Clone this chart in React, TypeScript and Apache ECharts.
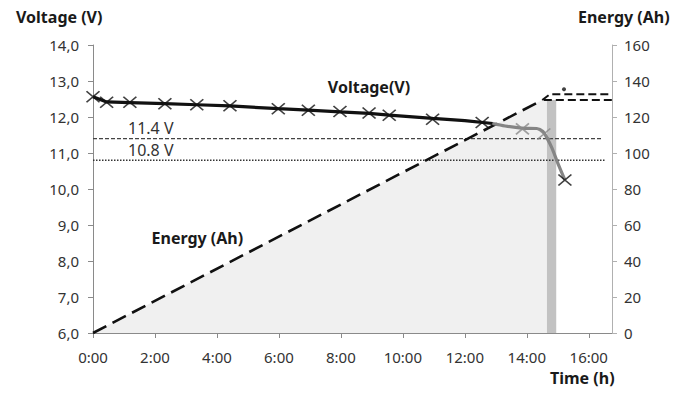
import React, { useEffect, useRef } from "react";
import * as echarts from "echarts";

// ---- data ----
const sampleHours = [0, 0.44, 1.19, 2.32, 3.35, 4.42, 5.98, 6.95, 7.97, 8.91, 9.56, 10.96, 12.56, 13.86, 14.55, 15.23];
const sampleVolts = [12.56, 12.41, 12.41, 12.37, 12.34, 12.31, 12.23, 12.19, 12.15, 12.11, 12.05, 11.94, 11.85, 11.67, 11.53, 10.25];
const sampleGray = [false, false, false, false, false, false, false, false, false, false, false, false, false, true, true, false];

const curveBlackHours = [0, 0.44, 1.19, 2.32, 3.35, 4.42, 5.98, 6.95, 7.97, 8.91, 9.56, 10.96, 12.0, 12.9];
const curveBlackVolts = [12.56, 12.42, 12.4, 12.37, 12.34, 12.31, 12.23, 12.19, 12.14, 12.1, 12.05, 11.96, 11.9, 11.82];
const curveGrayHours = [12.9, 13.3, 13.84, 14.32, 14.52, 14.65, 14.81, 15.0, 15.23];
const curveGrayVolts = [11.82, 11.75, 11.69, 11.68, 11.6, 11.42, 11.14, 10.72, 10.25];

const energyHours = [0, 14.5];
const energyAh = [0, 129.4];
const upperPlateauHours = [14.5, 14.74, 16.75];
const upperPlateauAh = [129.4, 132.6, 132.6];
const lowerPlateauHours = [14.55, 16.75];
const lowerPlateauAh = [129.4, 129.4];
const energyDot = [15.2, 135.4];

const fillHours = [0, 14.5, 14.65];
const fillAh = [0, 129.4, 129.4];
const barHours = [14.65, 14.95];
const barAh = [129.4, 129.4];

const ref114 = { volts: 11.4, from: 0, to: 16.45, label: "11.4 V", labelAt: [1.13, 11.69] };
const ref108 = { volts: 10.8, from: 0, to: 16.55, label: "10.8 V", labelAt: [1.13, 11.08] };

const voltageLabel = { text: "Voltage(V)", at: [7.58, 12.83] };
const energyLabel = { text: "Energy (Ah)", at: [1.89, 8.64] };

const xTickStep = 2;
const xMax = 16.75;
const leftMin = 6, leftMax = 14, leftStep = 1;
const rightMin = 0, rightMax = 160, rightStep = 20;

const zip = (a: number[], b: number[]) => a.map((v, i) => [v, b[i]]);

const FONT = "Noto Sans";

export default function App() {
  const ref = useRef<HTMLDivElement>(null);
  useEffect(() => {
    if (!ref.current) return;
    const chart = echarts.init(ref.current, null, { renderer: "svg" });
    const axisLine = { show: true, lineStyle: { color: "#8a8a8a", width: 1 } };
    const axisTick = { show: true, length: 5, lineStyle: { color: "#8a8a8a" } };
    const labelStyle = { color: "#333", fontSize: 15, fontFamily: FONT };
    const xMark = "path://M0,0 L12,10 M12,0 L0,10";
    const titles = [
      { type: "text", left: 16, top: 9, style: { text: "Voltage (V)", fill: "#1a1a1a", font: `bold 16px "${FONT}"` } },
      { type: "text", left: 578, top: 9, style: { text: "Energy (Ah)", fill: "#1a1a1a", font: `bold 16px "${FONT}"` } },
      { type: "text", left: 550, top: 370, style: { text: "Time (h)", fill: "#1a1a1a", font: `bold 16px "${FONT}"` } },
    ];
    chart.setOption({
      animation: false,
      backgroundColor: "#fff",
      grid: { left: 93, right: 79, top: 45, bottom: 60 },
      xAxis: {
        type: "value",
        min: 0,
        max: xMax,
        interval: xTickStep,
        axisLine,
        axisTick,
        splitLine: { show: false },
        axisLabel: { ...labelStyle, margin: 16, formatter: (v: number) => `${v}:00` },
      },
      yAxis: [
        {
          type: "value",
          min: leftMin,
          max: leftMax,
          interval: leftStep,
          axisLine,
          axisTick,
          splitLine: { show: false },
          axisLabel: { ...labelStyle, margin: 14, formatter: (v: number) => v.toFixed(1).replace(".", ",") },
        },
        {
          type: "value",
          position: "right",
          min: rightMin,
          max: rightMax,
          interval: rightStep,
          axisLine: { show: true, lineStyle: { color: "#b0b0b0", width: 1 } },
          axisTick: { show: true, length: 5, lineStyle: { color: "#b0b0b0" } },
          splitLine: { show: false },
          axisLabel: { ...labelStyle, margin: 12 },
        },
      ],
      series: [
        {
          type: "line",
          yAxisIndex: 1,
          data: zip(fillHours, fillAh),
          symbol: "none",
          lineStyle: { width: 0 },
          areaStyle: { color: "#f0f0f0", opacity: 1 },
          z: 1,
          silent: true,
        },
        {
          type: "line",
          yAxisIndex: 1,
          data: zip(barHours, barAh),
          symbol: "none",
          lineStyle: { width: 0 },
          areaStyle: { color: "#c2c2c2", opacity: 1 },
          z: 1,
          silent: true,
        },
        {
          type: "line",
          data: [[ref114.from, ref114.volts], [ref114.to, ref114.volts]],
          symbol: "none",
          lineStyle: { color: "#444", width: 1.3, type: [4, 2] },
          z: 2,
        },
        {
          type: "line",
          data: [[ref108.from, ref108.volts], [ref108.to, ref108.volts]],
          symbol: "none",
          lineStyle: { color: "#333", width: 1.5, type: [1.5, 1.5] },
          z: 2,
        },
        {
          type: "line",
          yAxisIndex: 1,
          data: zip(energyHours, energyAh),
          symbol: "none",
          lineStyle: { color: "#111", width: 2.6, type: [15, 7] },
          z: 3,
        },
        {
          type: "line",
          yAxisIndex: 1,
          data: zip(upperPlateauHours, upperPlateauAh),
          symbol: "none",
          lineStyle: { color: "#111", width: 2, type: [8, 4] },
          z: 3,
        },
        {
          type: "line",
          yAxisIndex: 1,
          data: zip(lowerPlateauHours, lowerPlateauAh),
          symbol: "none",
          lineStyle: { color: "#111", width: 2, type: [8, 4] },
          z: 3,
        },
        {
          type: "scatter",
          yAxisIndex: 1,
          data: [energyDot],
          symbol: "circle",
          symbolSize: 4,
          itemStyle: { color: "#111" },
          z: 3,
        },
        {
          type: "line",
          data: zip(curveBlackHours, curveBlackVolts),
          symbol: "none",
          lineStyle: { color: "#111", width: 3.2 },
          z: 4,
        },
        {
          type: "line",
          data: zip(curveGrayHours, curveGrayVolts),
          symbol: "none",
          smooth: 0.3,
          lineStyle: { color: "#858585", width: 3.2 },
          z: 4,
        },
        {
          type: "scatter",
          data: sampleHours.map((h, i) => ({
            value: [h, sampleVolts[i]],
            itemStyle: {
              color: "rgba(0,0,0,0)",
              borderColor: sampleGray[i] ? "#8a8a8a" : "#111",
              borderWidth: 1.6,
            },
          })),
          symbol: xMark,
          symbolSize: [13, 11],
          z: 5,
        },
      ],
      graphic: titles,
    });

    // annotation texts placed at data coordinates through the axes
    const toPx = (p: number[]) => chart.convertToPixel({ xAxisIndex: 0, yAxisIndex: 0 }, p) as number[];
    const annot = (at: number[], text: string, bold: boolean) => {
      const [x, y] = toPx(at);
      return {
        type: "text",
        x,
        y,
        z: 10,
        style: {
          text,
          fill: bold ? "#1a1a1a" : "#333333",
          font: `${bold ? "bold " : ""}16px "${FONT}"`,
          textAlign: "left",
          textVerticalAlign: "middle",
        },
      };
    };
    chart.setOption({
      graphic: [
        ...titles,
        annot(ref114.labelAt, ref114.label, false),
        annot(ref108.labelAt, ref108.label, false),
        annot(voltageLabel.at, voltageLabel.text, true),
        annot(energyLabel.at, energyLabel.text, true),
      ],
    });
    return () => chart.dispose();
  }, []);
  return <div ref={ref} style={{ width: 691, height: 393, position: "absolute", left: 0, top: 0 }} />;
}
